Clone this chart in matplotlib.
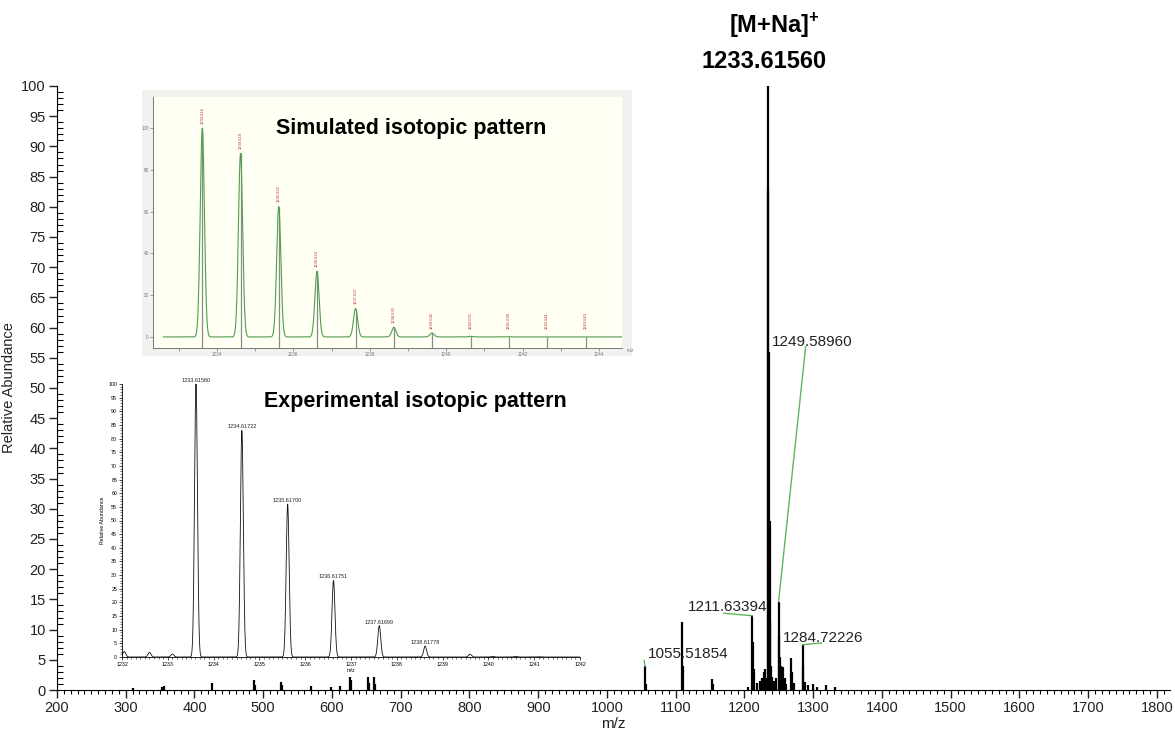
import numpy as np
import matplotlib.pyplot as plt
from matplotlib.ticker import MultipleLocator
from matplotlib.patches import Rectangle

plt.rcParams['font.family'] = ['Liberation Sans', 'DejaVu Sans']
plt.rcParams['mathtext.fontset'] = 'custom'
plt.rcParams['mathtext.rm'] = 'Liberation Sans:bold'
plt.rcParams['mathtext.bf'] = 'Liberation Sans:bold'

# full ESI spectrum (m/z, relative abundance)
main_mz = [310, 353, 356, 425.8, 486.5, 488.5, 525.6, 527.5, 569, 598, 612,
           625.5, 627.0, 653.0, 654.5, 661.6, 663.0,
           1055.52, 1057.0, 1109.5, 1111.0, 1152.5, 1154.0,
           1205.0, 1211.63, 1212.6, 1213.6, 1218, 1223, 1226, 1228, 1230.5,
           1232.1, 1232.6, 1233.1, 1233.62, 1234.62, 1235.62, 1236.62, 1237.62, 1238.62,
           1240.0, 1242.5, 1246, 1249.59, 1250.6, 1251.6, 1253.0, 1256.0, 1258.5, 1261,
           1268.0, 1269.0, 1272.0, 1284.72, 1285.7, 1288.0, 1292, 1300.0, 1305, 1318.0, 1331.0]
main_int = [0.4, 0.5, 0.6, 1.1, 1.7, 0.8, 1.4, 0.8, 0.7, 0.5, 0.6,
            2.2, 1.6, 2.2, 1.2, 2.2, 1.0,
            3.9, 1.0, 11.3, 4.0, 1.8, 1.0,
            0.5, 12.3, 8.0, 3.5, 1.2, 1.5, 2.0, 3.0, 3.5,
            2.0, 1.7, 1.1, 100.0, 83.0, 56.0, 28.0, 11.5, 4.0,
            2.2, 1.5, 2.0, 14.6, 9.0, 5.5, 4.0, 3.8, 2.0, 1.0,
            5.3, 3.0, 1.1, 7.5, 4.0, 1.4, 0.8, 1.0, 0.5, 0.8, 0.5]

# labelled peaks: text, text left x, text y, leader path
lab_text = ['1055.51854', '1211.63394', '1249.58960', '1284.72226']
lab_x = [1060, 1118, 1240, 1256]
lab_y = [5.9, 13.8, 57.6, 8.6]
lead_x = [[1055.52, 1054], [1170, 1211.63], [1249.59, 1289], [1284.72, 1312]]
lead_y = [[3.9, 4.9], [12.7, 12.3], [14.6, 56.8], [7.5, 7.8]]

# simulated isotopic pattern
sim_mz = [1233.62, 1234.62, 1235.62, 1236.62, 1237.63, 1238.63, 1239.63,
          1240.64, 1241.64, 1242.64, 1243.65]
sim_int = [100, 88, 62.5, 31.5, 13.6, 4.6, 1.9, 0.3, 0.1, 0.05, 0.02]
sim_lab = ['1233.616', '1234.619', '1235.622', '1236.624', '1237.627', '1238.630',
           '1239.632', '1240.635', '1241.638', '1242.641', '1243.643']

# experimental isotopic pattern
exp_mz = [1232.05, 1232.6, 1233.1, 1233.6156, 1234.6172, 1235.617, 1236.6175,
          1237.617, 1238.6178, 1239.6, 1240.1, 1240.6, 1241.1]
exp_int = [2.0, 1.7, 1.1, 100, 83, 56, 28, 11.5, 4.0, 1.0, 0.2, 0.2, 0.1]
exp_lab = ['1233.61560', '1234.61722', '1235.61700', '1236.61751', '1237.61699', '1238.61778']

green = '#5cb85c'
W, H = 1175, 731

fig = plt.figure(figsize=(W / 100, H / 100), dpi=100)

# ---- main spectrum ----
ax = fig.add_axes([57 / W, 41 / H, 1113 / W, 604 / H])
ax.vlines(main_mz, 0, main_int, color='black', lw=1.6)
ax.set_xlim(200, 1819)
ax.set_ylim(0, 100)
for s in ['top', 'right']:
    ax.spines[s].set_visible(False)
ax.set_xticks(np.arange(200, 1801, 100))
ax.xaxis.set_minor_locator(MultipleLocator(10))
ax.yaxis.set_major_locator(MultipleLocator(5))
ax.yaxis.set_minor_locator(MultipleLocator(1))
ax.tick_params(axis='both', which='major', direction='out', length=6, width=1,
               labelsize=10.5, colors='#222222', pad=2)
ax.tick_params(axis='x', which='minor', direction='out', length=3, width=0.8)
ax.tick_params(axis='y', which='minor', direction='in', length=4, width=0.8)
ax.set_xlabel('m/z', fontsize=11, color='#222222', labelpad=1)
ax.set_ylabel('Relative Abundance', fontsize=10.5, color='#222222')
ax.yaxis.set_label_coords(-41 / 1113, 0.5)

for t, x, y, lx, ly in zip(lab_text, lab_x, lab_y, lead_x, lead_y):
    ax.plot(lx, ly, color=green, lw=1)
    ax.text(x, y, t, fontsize=11, ha='left', va='center', color='#222222')

ax.text(1243, 110, '[M+Na]$^{+}$', fontsize=17, fontweight='bold',
        ha='center', va='center', clip_on=False)
ax.text(1228, 104, '1233.61560', fontsize=17, fontweight='bold', ha='center',
        va='center', clip_on=False)

# ---- simulated inset ----
fig.add_artist(Rectangle((142 / W, (H - 356) / H), 490 / W, 266 / H,
                         transform=fig.transFigure, facecolor='#f1f1ee',
                         edgecolor='none', zorder=2))
ax1 = fig.add_axes([153 / W, (H - 348) / H, (622 - 153) / W, 251 / H])
ax1.set_zorder(3)
ax1.set_facecolor('#fffff3')
xs = np.linspace(1232.6, 1244.6, 3000)
prof = np.zeros_like(xs)
for m, h in zip(sim_mz, sim_int):
    prof += h * np.exp(-0.5 * ((xs - m) / 0.055) ** 2)
ax1.vlines(sim_mz, -6, sim_int, color='#8a8a8a', lw=0.9)
ax1.plot(xs, prof, color='#4f9e4f', lw=0.8)
for m, h, t in zip(sim_mz, sim_int, sim_lab):
    ax1.text(m, max(h, 2) + 2, t, rotation=90, fontsize=3, color='#c03030',
             ha='center', va='bottom')
ax1.set_xlim(1232.33, 1244.6)
ax1.set_ylim(-5.3, 115)
for s in ['top', 'right']:
    ax1.spines[s].set_visible(False)
for s in ['left', 'bottom']:
    ax1.spines[s].set_color('#777777')
    ax1.spines[s].set_linewidth(0.7)
ax1.set_xticks(np.arange(1234, 1245, 2))
ax1.xaxis.set_minor_locator(MultipleLocator(1))
ax1.set_yticks(np.arange(0, 101, 20))
ax1.tick_params(which='both', length=2, width=0.5, colors='#777777',
                labelsize=3.3, pad=1)
ax1.text(1.01, 0.0, 'm/z', transform=ax1.transAxes, fontsize=3.3, color='#777777',
         va='top')
ax1.text(0.55, 0.875, 'Simulated isotopic pattern', transform=ax1.transAxes,
         fontsize=15.5, fontweight='bold', ha='center', va='center')

# ---- experimental inset ----
ax2 = fig.add_axes([122 / W, (H - 657) / H, (580 - 122) / W, 273 / H])
ax2.set_zorder(3)
ax2.set_facecolor('none')
xe = np.linspace(1232, 1242, 4000)
pe = np.zeros_like(xe)
for m, h in zip(exp_mz, exp_int):
    pe += h * np.exp(-0.5 * ((xe - m) / 0.032) ** 2)
ax2.plot(xe, pe, color='#111111', lw=0.6)
for m, h, t in zip(exp_mz[3:9], exp_int[3:9], exp_lab):
    ax2.text(m, h + 0.4, t, fontsize=4, ha='center', va='bottom', color='#222222',
             clip_on=False)
ax2.set_xlim(1232, 1242)
ax2.set_ylim(0, 100)
for s in ['top', 'right']:
    ax2.spines[s].set_visible(False)
for s in ['left', 'bottom']:
    ax2.spines[s].set_linewidth(0.6)
ax2.set_xticks(np.arange(1232, 1243, 1))
ax2.xaxis.set_minor_locator(MultipleLocator(0.1))
ax2.yaxis.set_major_locator(MultipleLocator(5))
ax2.yaxis.set_minor_locator(MultipleLocator(1))
ax2.tick_params(which='major', length=2.5, width=0.5, labelsize=3.8, pad=1)
ax2.tick_params(which='minor', length=1.2, width=0.4)
ax2.set_xlabel('m/z', fontsize=3.8, labelpad=1)
ax2.set_ylabel('Relative Abundance', fontsize=3.8, labelpad=2)
ax2.text(0.64, 0.935, 'Experimental isotopic pattern', transform=ax2.transAxes,
         fontsize=15.5, fontweight='bold', ha='center', va='center')

fig.savefig('out.png', dpi=100)
